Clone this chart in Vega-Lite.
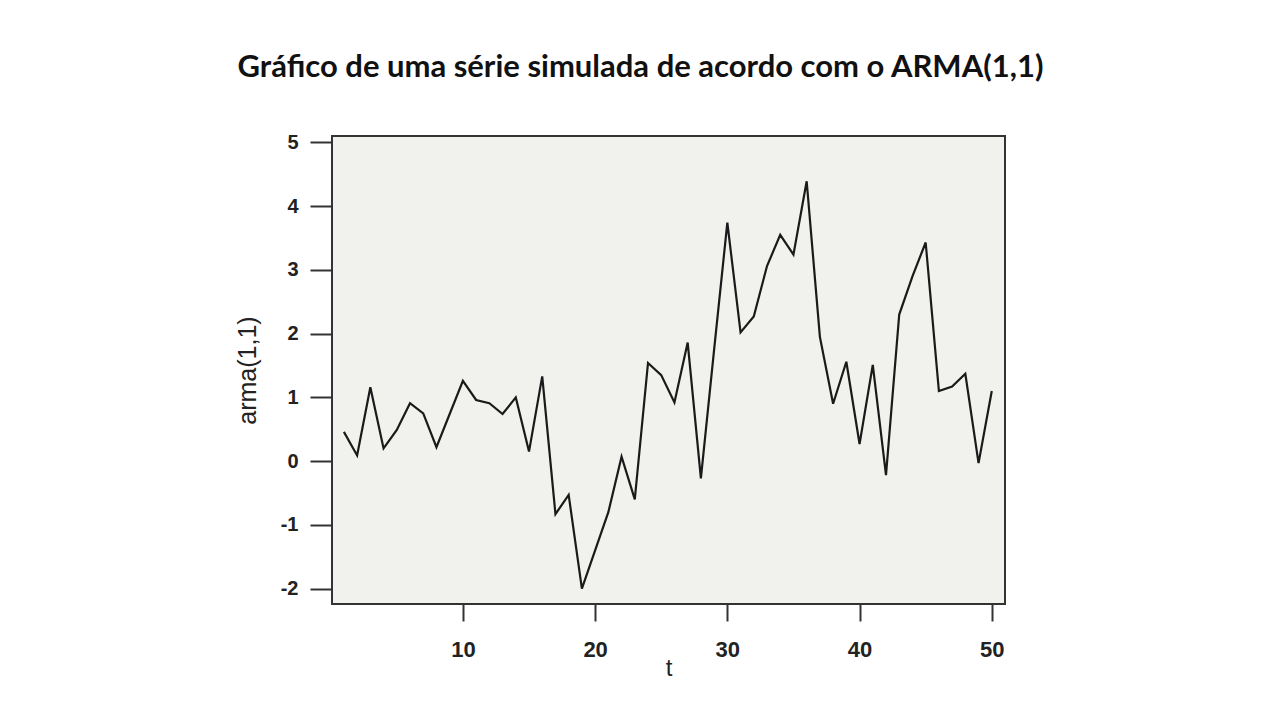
{
  "$schema": "https://vega.github.io/schema/vega-lite/v6.json",
  "autosize": {"type": "none"},
  "padding": {"left": 332, "top": 136, "right": 275, "bottom": 116},
  "width": 673,
  "height": 468,
  "background": "white",
  "title": {
    "text": "Gráfico de uma série simulada de acordo com o ARMA(1,1)",
    "font": "Lato",
    "fontSize": 31,
    "fontWeight": "bold",
    "color": "#111",
    "anchor": "middle",
    "baseline": "alphabetic",
    "offset": 24,
    "dx": -28
  },
  "data": {
    "values": [
      {"t": 1, "arma": 0.46}, {"t": 2, "arma": 0.09}, {"t": 3, "arma": 1.16},
      {"t": 4, "arma": 0.2}, {"t": 5, "arma": 0.49}, {"t": 6, "arma": 0.91},
      {"t": 7, "arma": 0.75}, {"t": 8, "arma": 0.22}, {"t": 9, "arma": 0.74},
      {"t": 10, "arma": 1.26}, {"t": 11, "arma": 0.96}, {"t": 12, "arma": 0.91},
      {"t": 13, "arma": 0.74}, {"t": 14, "arma": 1.0}, {"t": 15, "arma": 0.15},
      {"t": 16, "arma": 1.33}, {"t": 17, "arma": -0.83}, {"t": 18, "arma": -0.53},
      {"t": 19, "arma": -2.0}, {"t": 20, "arma": -1.4}, {"t": 21, "arma": -0.8},
      {"t": 22, "arma": 0.07}, {"t": 23, "arma": -0.6}, {"t": 24, "arma": 1.54},
      {"t": 25, "arma": 1.35}, {"t": 26, "arma": 0.92}, {"t": 27, "arma": 1.86},
      {"t": 28, "arma": -0.27}, {"t": 29, "arma": 1.75}, {"t": 30, "arma": 3.74},
      {"t": 31, "arma": 2.02}, {"t": 32, "arma": 2.27}, {"t": 33, "arma": 3.06},
      {"t": 34, "arma": 3.55}, {"t": 35, "arma": 3.24}, {"t": 36, "arma": 4.39},
      {"t": 37, "arma": 1.95}, {"t": 38, "arma": 0.9}, {"t": 39, "arma": 1.56},
      {"t": 40, "arma": 0.27}, {"t": 41, "arma": 1.51}, {"t": 42, "arma": -0.22},
      {"t": 43, "arma": 2.3}, {"t": 44, "arma": 2.9}, {"t": 45, "arma": 3.43},
      {"t": 46, "arma": 1.1}, {"t": 47, "arma": 1.17}, {"t": 48, "arma": 1.37},
      {"t": 49, "arma": -0.03}, {"t": 50, "arma": 1.1}
    ]
  },
  "mark": {"type": "line", "color": "#1a1a1a", "strokeWidth": 2.2, "strokeJoin": "miter"},
  "encoding": {
    "x": {
      "field": "t",
      "type": "quantitative",
      "title": "t",
      "scale": {"domain": [0.1, 51], "nice": false, "zero": false},
      "axis": {
        "values": [10, 20, 30, 40, 50],
        "tickSize": 17,
        "labelPadding": 18,
        "labelFontSize": 22,
        "titleFontSize": 24,
        "titlePadding": -4
      }
    },
    "y": {
      "field": "arma",
      "type": "quantitative",
      "title": "arma(1,1)",
      "scale": {"domain": [-2.24, 5.1], "nice": false, "zero": false},
      "axis": {
        "values": [-2, -1, 0, 1, 2, 3, 4, 5],
        "labelExpr": "'' + datum.value",
        "tickSize": 22,
        "labelPadding": 12,
        "labelFontSize": 20,
        "titleFontSize": 25,
        "titlePadding": 20
      }
    }
  },
  "config": {
    "view": {"stroke": "#333", "strokeWidth": 2, "fill": "#f1f1ee"},
    "axis": {
      "grid": false,
      "domain": false,
      "tickColor": "#333",
      "tickWidth": 2,
      "labelFont": "Liberation Sans",
      "labelFontWeight": "bold",
      "labelColor": "#222",
      "titleFont": "Liberation Sans",
      "titleFontWeight": "normal",
      "titleColor": "#222"
    }
  }
}
